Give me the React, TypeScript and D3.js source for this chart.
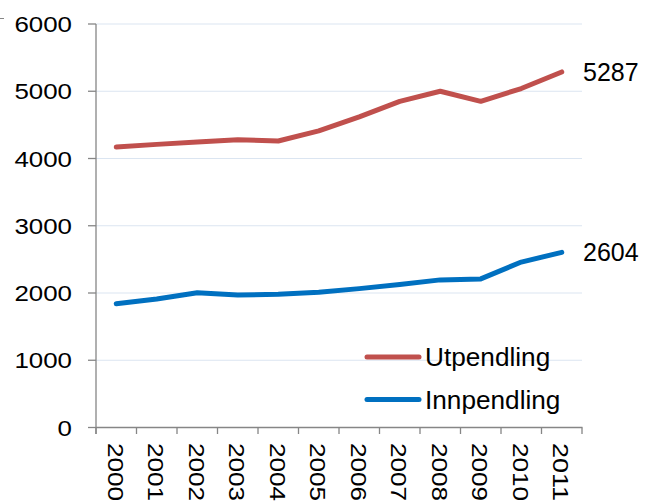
import React from "react";
import * as d3 from "d3";

const years = ["2000","2001","2002","2003","2004","2005","2006","2007","2008","2009","2010","2011"];
const utpendling = [4170, 4210, 4245, 4280, 4260, 4410, 4620, 4850, 5000, 4850, 5040, 5287];
const innpendling = [1840, 1910, 2005, 1970, 1980, 2010, 2065, 2125, 2195, 2210, 2460, 2604];
const yTicks = [0, 1000, 2000, 3000, 4000, 5000, 6000];
const seriesNames = ["Utpendling", "Innpendling"];
const colors = ["#c0504d", "#0070c0"];

export default function App() {
  const W = 645, H = 502;
  const x = d3.scaleBand<string>().domain(years).range([96, 582]);
  const y = d3.scaleLinear().domain([0, 6000]).range([427.5, 24]);
  const cx = (yr: string) => (x(yr) as number) + x.bandwidth() / 2;
  const line = d3.line<number>().x((_, i) => cx(years[i])).y((v) => y(v));
  const series = [utpendling, innpendling];
  const font = "'Liberation Sans', Arial, sans-serif";
  const axisColor = "#868686";
  const boundaries = d3.range(years.length + 1).map((i) => 96 + i * x.bandwidth());
  return (
    <svg width={W} height={H} style={{ position: "absolute", left: 0, top: 0, background: "#fff" }} fontFamily={font}>
      <line x1={0} x2={4} y1={18.5} y2={18.5} stroke={axisColor} strokeWidth={1} />
      {yTicks.filter((t) => t > 0).map((t) => (
        <line key={"g" + t} x1={96} x2={582} y1={y(t)} y2={y(t)} stroke="#dbe5f1" strokeWidth={1.2} />
      ))}
      {yTicks.map((t) => (
        <g key={"t" + t}>
          <line x1={88} x2={96} y1={y(t)} y2={y(t)} stroke={axisColor} strokeWidth={1.3} />
          <text x={72} y={y(t)} dy="0.36em" fontSize={22.5} textAnchor="end"
            textLength={String(t).length * 14.4} lengthAdjust="spacingAndGlyphs" fill="#000">{t}</text>
        </g>
      ))}
      <line x1={96} x2={96} y1={24} y2={434} stroke={axisColor} strokeWidth={1.3} />
      <line x1={96} x2={582.5} y1={y(0)} y2={y(0)} stroke={axisColor} strokeWidth={1.3} />
      {boundaries.map((b, i) => (
        <line key={"xb" + i} x1={b} x2={b} y1={y(0)} y2={434} stroke={axisColor} strokeWidth={1.3} />
      ))}
      {years.map((yr) => (
        <text key={"xl" + yr} transform={`translate(${cx(yr) - 8.5},443) rotate(90)`} fontSize={22.5}
          textLength={58} lengthAdjust="spacingAndGlyphs" fill="#000">{yr}</text>
      ))}
      {series.map((s, i) => (
        <path key={"s" + i} d={line(s) as string} fill="none" stroke={colors[i]} strokeWidth={5}
          strokeLinecap="round" strokeLinejoin="round" />
      ))}
      {series.map((s, i) => (
        <text key={"e" + i} x={583} y={y(s[s.length - 1])} dy="0.36em" fontSize={25} fill="#000">
          {s[s.length - 1]}
        </text>
      ))}
      {seriesNames.map((n, i) => (
        <g key={"lg" + i}>
          <line x1={367} x2={419} y1={357 + i * 42.5} y2={357 + i * 42.5} stroke={colors[i]} strokeWidth={5} strokeLinecap="round" />
          <text x={425} y={357 + i * 42.5} dy="0.36em" fontSize={26.2} fill="#000">{n}</text>
        </g>
      ))}
    </svg>
  );
}
